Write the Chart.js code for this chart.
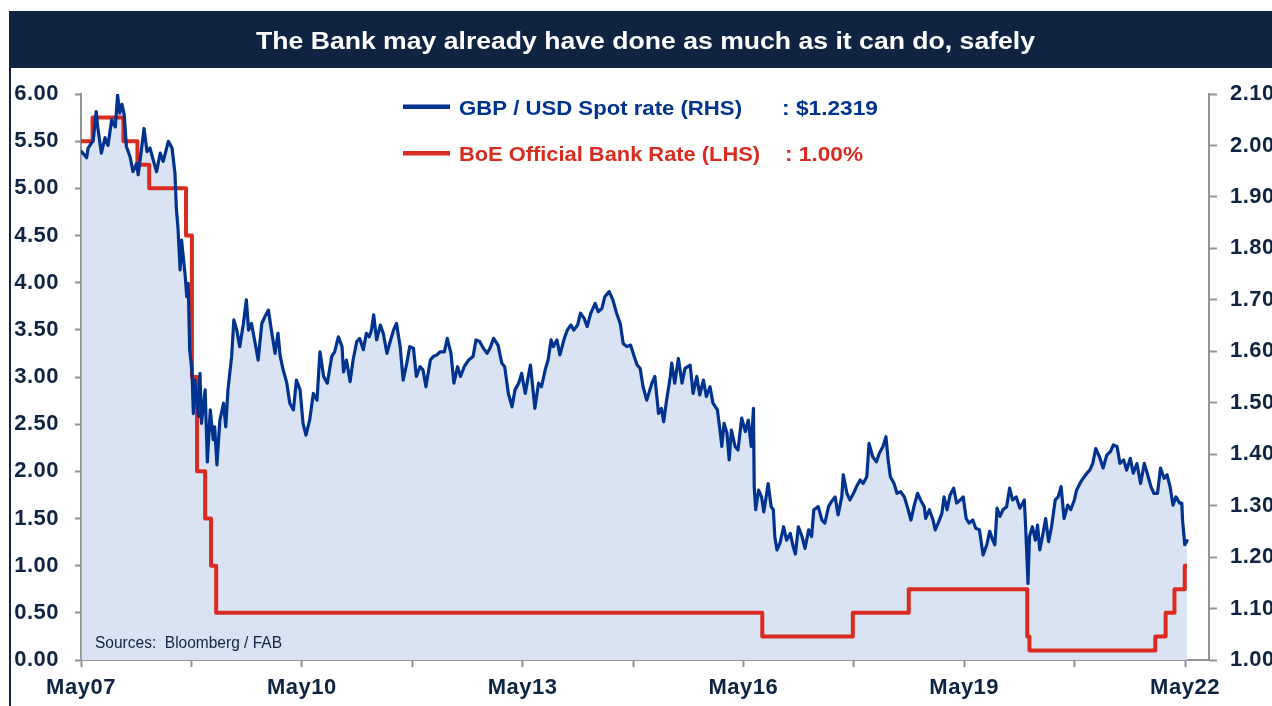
<!DOCTYPE html>
<html>
<head>
<meta charset="utf-8">
<script src="https://cdn.jsdelivr.net/npm/chart.js@4.4.1/dist/chart.umd.min.js"></script>
<style>
html,body{margin:0;padding:0;background:#fff;}
#c{display:block;}
</style>
</head>
<body>
<canvas id="c" width="1272" height="706"></canvas>
<script>
// ---------------- DATA ----------------
const chartTitle = 'The Bank may already have done as much as it can do, safely';
const fxLabel = 'GBP / USD Spot rate (RHS)';
const fxLast = ': $1.2319';
const bankLabel = 'BoE Official Bank Rate (LHS)';
const bankLast = ': 1.00%';
const sourceText = 'Sources:  Bloomberg / FAB';

const xTickLabels = ['May07', 'May10', 'May13', 'May16', 'May19', 'May22'];
const leftTickLabels = ['0.00','0.50','1.00','1.50','2.00','2.50','3.00','3.50','4.00','4.50','5.00','5.50','6.00'];
const rightTickLabels = ['1.00','1.10','1.20','1.30','1.40','1.50','1.60','1.70','1.80','1.90','2.00','2.10'];

// GBP/USD spot (decimal year, rate)
const fxYears = [
2007.34,2007.41,2007.43,2007.50,2007.54,2007.56,2007.61,2007.66,2007.70,2007.75,
2007.80,2007.83,2007.86,2007.89,2007.92,2007.95,2008.00,2008.04,2008.09,2008.11,
2008.16,2008.19,2008.23,2008.27,2008.32,2008.36,2008.41,2008.45,2008.52,2008.57,
2008.61,2008.63,2008.65,2008.68,2008.70,2008.75,2008.77,2008.79,2008.81,2008.84,
2008.86,2008.88,2008.93,2008.95,2008.97,2009.02,2009.05,2009.09,2009.13,2009.15,
2009.18,2009.22,2009.27,2009.30,2009.33,2009.38,2009.41,2009.45,2009.49,2009.54,
2009.58,2009.61,2009.65,2009.70,2009.74,2009.79,2009.83,2009.88,2009.92,2009.97,
2010.01,2010.04,2010.08,2010.13,2010.17,2010.22,2010.26,2010.31,2010.35,2010.39,
2010.44,2010.49,2010.54,2010.58,2010.63,2010.68,2010.74,2010.78,2010.83,2010.88,
2010.90,2010.94,2010.99,2011.03,2011.08,2011.12,2011.17,2011.21,2011.25,2011.28,
2011.31,2011.35,2011.40,2011.44,2011.49,2011.54,2011.58,2011.62,2011.67,2011.71,
2011.76,2011.80,2011.85,2011.89,2011.94,2011.98,2012.02,2012.08,2012.12,2012.17,
2012.21,2012.27,2012.31,2012.36,2012.40,2012.45,2012.49,2012.54,2012.60,2012.66,
2012.70,2012.75,2012.80,2012.85,2012.89,2012.94,2013.00,2013.05,2013.09,2013.14,
2013.19,2013.23,2013.28,2013.32,2013.37,2013.41,2013.44,2013.48,2013.50,2013.55,
2013.59,2013.64,2013.68,2013.72,2013.75,2013.80,2013.84,2013.90,2013.94,2013.99,
2014.03,2014.08,2014.12,2014.17,2014.21,2014.26,2014.32,2014.36,2014.41,2014.45,
2014.51,2014.56,2014.61,2014.66,2014.70,2014.75,2014.80,2014.85,2014.89,2014.93,
2014.97,2015.02,2015.09,2015.13,2015.18,2015.22,2015.25,2015.29,2015.34,2015.36,
2015.40,2015.45,2015.50,2015.54,2015.61,2015.65,2015.70,2015.74,2015.79,2015.83,
2015.88,2015.92,2015.98,2016.02,2016.04,2016.07,2016.11,2016.14,2016.17,2016.22,
2016.26,2016.31,2016.36,2016.40,2016.44,2016.47,2016.48,2016.50,2016.54,2016.58,
2016.61,2016.65,2016.67,2016.71,2016.74,2016.76,2016.79,2016.83,2016.88,2016.92,
2016.97,2017.01,2017.04,2017.08,2017.13,2017.17,2017.22,2017.26,2017.29,2017.35,
2017.40,2017.44,2017.49,2017.53,2017.58,2017.62,2017.67,2017.69,2017.74,2017.78,
2017.83,2017.87,2017.92,2017.96,2018.01,2018.04,2018.09,2018.14,2018.18,2018.23,
2018.27,2018.30,2018.33,2018.38,2018.42,2018.47,2018.52,2018.56,2018.61,2018.65,
2018.70,2018.74,2018.79,2018.81,2018.86,2018.91,2018.94,2018.98,2019.03,2019.06,
2019.10,2019.14,2019.19,2019.23,2019.28,2019.32,2019.36,2019.40,2019.45,2019.49,
2019.54,2019.59,2019.64,2019.68,2019.72,2019.75,2019.78,2019.82,2019.86,2019.91,
2019.95,2019.99,2020.04,2020.09,2020.15,2020.17,2020.20,2020.22,2020.26,2020.30,
2020.33,2020.36,2020.40,2020.44,2020.48,2020.52,2020.57,2020.61,2020.65,2020.69,
2020.74,2020.78,2020.83,2020.86,2020.92,2020.95,2021.00,2021.04,2021.08,2021.12,
2021.17,2021.22,2021.27,2021.32,2021.36,2021.41,2021.45,2021.50,2021.54,2021.59,
2021.63,2021.68,2021.73,2021.78,2021.82,2021.87,2021.91,2021.96,2022.00,2022.05,
2022.09,2022.13,2022.17,2022.21,2022.26,2022.29,2022.30,2022.33,2022.36
];
const fxRates = [
1.988,1.976,1.995,2.010,2.066,2.037,1.985,2.015,2.000,2.050,
2.036,2.098,2.063,2.080,2.060,1.998,1.978,1.949,1.965,1.943,
1.998,2.033,1.988,1.995,1.969,1.949,1.985,1.969,2.008,1.995,
1.946,1.875,1.842,1.758,1.816,1.745,1.706,1.732,1.603,1.564,
1.479,1.544,1.473,1.557,1.460,1.525,1.385,1.486,1.428,1.453,
1.379,1.466,1.499,1.453,1.525,1.590,1.661,1.641,1.609,1.654,
1.700,1.641,1.654,1.615,1.583,1.654,1.667,1.680,1.641,1.596,
1.635,1.590,1.564,1.538,1.499,1.486,1.544,1.525,1.460,1.437,
1.466,1.518,1.505,1.599,1.551,1.538,1.590,1.599,1.628,1.609,
1.560,1.583,1.541,1.583,1.619,1.625,1.603,1.635,1.628,1.641,
1.671,1.622,1.651,1.635,1.596,1.622,1.641,1.654,1.609,1.544,
1.577,1.609,1.606,1.551,1.570,1.564,1.531,1.583,1.590,1.593,
1.599,1.599,1.625,1.596,1.538,1.570,1.551,1.570,1.583,1.590,
1.622,1.619,1.606,1.596,1.606,1.625,1.612,1.577,1.570,1.518,
1.492,1.525,1.538,1.557,1.518,1.551,1.573,1.518,1.489,1.538,
1.531,1.564,1.583,1.622,1.609,1.622,1.593,1.625,1.641,1.651,
1.641,1.651,1.674,1.664,1.648,1.674,1.693,1.677,1.683,1.706,
1.716,1.700,1.674,1.654,1.615,1.609,1.612,1.590,1.573,1.567,
1.531,1.505,1.538,1.551,1.479,1.489,1.463,1.505,1.551,1.577,
1.538,1.586,1.538,1.567,1.573,1.518,1.551,1.515,1.544,1.512,
1.531,1.499,1.486,1.441,1.415,1.460,1.441,1.389,1.447,1.415,
1.408,1.470,1.444,1.466,1.415,1.489,1.337,1.292,1.330,1.317,
1.288,1.324,1.343,1.298,1.292,1.240,1.214,1.227,1.259,1.233,
1.246,1.220,1.206,1.259,1.240,1.217,1.253,1.240,1.292,1.298,
1.272,1.266,1.298,1.308,1.317,1.282,1.317,1.360,1.324,1.311,
1.324,1.337,1.350,1.343,1.356,1.421,1.395,1.385,1.402,1.415,
1.434,1.389,1.356,1.343,1.324,1.327,1.317,1.298,1.272,1.298,
1.324,1.311,1.298,1.275,1.292,1.272,1.253,1.266,1.285,1.317,
1.292,1.320,1.334,1.305,1.311,1.317,1.275,1.266,1.272,1.256,
1.253,1.204,1.224,1.250,1.233,1.224,1.295,1.279,1.292,1.298,
1.334,1.311,1.317,1.295,1.311,1.253,1.149,1.240,1.259,1.233,
1.262,1.214,1.243,1.275,1.230,1.259,1.311,1.317,1.337,1.275,
1.301,1.292,1.311,1.330,1.347,1.353,1.363,1.369,1.382,1.411,
1.395,1.373,1.398,1.405,1.418,1.415,1.382,1.389,1.369,1.392,
1.363,1.382,1.343,1.382,1.363,1.337,1.324,1.324,1.373,1.353,
1.360,1.337,1.301,1.317,1.305,1.305,1.272,1.224,1.2319
];

// BoE Official Bank Rate (decimal year of change, new rate)
const bankYears = [2007.334,2007.49,2007.91,2008.10,2008.26,2008.76,2008.84,2008.91,2009.02,2009.10,2009.17,2016.59,2017.82,2018.58,2020.19,2020.22,2021.93,2022.07,2022.19,2022.33,2022.36];
const bankRates = [5.50,5.75,5.50,5.25,5.00,4.50,3.00,2.00,1.50,1.00,0.50,0.25,0.50,0.75,0.25,0.10,0.25,0.50,0.75,1.00,1.00];

// ---------------- BUILD ----------------
const labelYear = l => 2000 + parseInt(l.slice(3), 10) + 4 / 12;
const xMajor = xTickLabels.map(labelYear);
const xTicks = [];
xMajor.forEach((v, i) => {
  xTicks.push(v);
  if (i < xMajor.length - 1) xTicks.push((v + xMajor[i + 1]) / 2);
});
const xMin = xMajor[0];
const xMax = xMajor[0] + 15.326;

const fxData = fxYears.map((x, i) => ({ x: x, y: fxRates[i] }));
const bankData = bankYears.map((x, i) => ({ x: x, y: bankRates[i] }));

const NAVY = '#0f2443';
const AXIS = '#939393';
const TICK_FONT = { family: "'Liberation Sans', Arial, sans-serif", size: 22, weight: 'bold' };

function fitText(ctx, text, x, y, w, font, color) {
  ctx.save();
  ctx.letterSpacing = '0px';
  ctx.font = font;
  ctx.fillStyle = color;
  ctx.textAlign = 'left';
  ctx.textBaseline = 'alphabetic';
  const m = ctx.measureText(text).width;
  ctx.translate(x, y);
  ctx.scale(w / m, 1);
  ctx.fillText(text, 0, 0);
  ctx.restore();
}

const decor = {
  id: 'decor',
  beforeDraw(chart) {
    const ctx = chart.ctx;
    ctx.save();
    ctx.letterSpacing = '0px';
    ctx.fillStyle = '#ffffff';
    ctx.fillRect(0, 0, chart.width, chart.height);
    ctx.restore();
    ctx.letterSpacing = '0.5px';
  },
  beforeDatasetsDraw(chart) {
    chart.ctx.letterSpacing = '0px';
  },
  afterDraw(chart) {
    const ctx = chart.ctx;
    ctx.save();
    ctx.letterSpacing = '0px';
    // title bar
    ctx.fillStyle = NAVY;
    ctx.fillRect(9, 11, chart.width - 9, 57);
    // left frame line
    ctx.fillRect(9, 68, 2, chart.height - 68);
    ctx.restore();
    fitText(ctx, chartTitle, 256, 49, 779, "bold 23px 'Liberation Sans', Arial, sans-serif", '#ffffff');

    // legend
    ctx.save();
    ctx.fillStyle = '#00338f';
    ctx.fillRect(403, 104.5, 47, 4.5);
    ctx.fillStyle = '#d92b1f';
    ctx.fillRect(403, 151, 47, 4.5);
    ctx.restore();
    const lf = "bold 20px 'Liberation Sans', Arial, sans-serif";
    fitText(ctx, fxLabel, 459, 115, 283, lf, '#00338f');
    fitText(ctx, fxLast, 782, 115, 96, lf, '#00338f');
    fitText(ctx, bankLabel, 459, 161, 301, lf, '#d92b1f');
    fitText(ctx, bankLast, 785, 161, 78, lf, '#d92b1f');

    // source
    fitText(ctx, sourceText, 95, 648, 187, "16px 'Liberation Sans', Arial, sans-serif", NAVY);
  }
};

new Chart(document.getElementById('c').getContext('2d'), {
  type: 'line',
  data: {
    datasets: [
      {
        label: fxLabel,
        data: fxData,
        yAxisID: 'y1',
        borderColor: '#00338f',
        borderWidth: 3.2,
        backgroundColor: '#dae3f3',
        fill: 'start',
        pointRadius: 0,
        tension: 0,
        borderJoinStyle: 'round',
        borderCapStyle: 'round'
      },
      {
        label: bankLabel,
        data: bankData,
        yAxisID: 'y',
        borderColor: '#d92b1f',
        borderWidth: 4,
        stepped: 'before',
        fill: false,
        pointRadius: 0,
        borderJoinStyle: 'round'
      }
    ]
  },
  options: {
    responsive: false,
    animation: false,
    events: [],
    layout: { padding: { top: 94, left: 0, right: 0, bottom: 0 } },
    plugins: {
      legend: { display: false },
      tooltip: { enabled: false },
      filler: { drawTime: 'beforeDatasetsDraw' }
    },
    scales: {
      x: {
        type: 'linear',
        min: xMin,
        max: xMax,
        afterFit(s) { s.height = 46; },
        afterBuildTicks(s) { s.ticks = xTicks.map(v => ({ value: v })); },
        ticks: {
          autoSkip: false,
          maxRotation: 0,
          padding: 8,
          color: NAVY,
          font: TICK_FONT,
          callback(v) {
            const i = xMajor.findIndex(m => Math.abs(m - v) < 1e-6);
            return i >= 0 ? xTickLabels[i] : '';
          }
        },
        grid: { drawOnChartArea: false, drawTicks: true, tickLength: 7, tickWidth: 2, tickColor: AXIS },
        border: { display: true, color: AXIS, width: 2 }
      },
      y: {
        position: 'left',
        min: 0,
        max: 6,
        afterFit(s) { s.width = 81; },
        afterBuildTicks(s) { s.ticks = leftTickLabels.map(t => ({ value: parseFloat(t) })); },
        ticks: {
          padding: 16,
          color: NAVY,
          font: TICK_FONT,
          callback(v) { return v.toFixed(2); }
        },
        grid: { drawOnChartArea: false, drawTicks: true, tickLength: 6, tickWidth: 2, tickColor: AXIS },
        border: { display: true, color: AXIS, width: 2 }
      },
      y1: {
        position: 'right',
        min: 1.0,
        max: 2.1,
        afterFit(s) { s.width = 63; },
        afterBuildTicks(s) { s.ticks = rightTickLabels.map(t => ({ value: parseFloat(t) })); },
        ticks: {
          padding: 13,
          color: NAVY,
          font: TICK_FONT,
          callback(v) { return v.toFixed(2); }
        },
        grid: { drawOnChartArea: false, drawTicks: true, tickLength: 8, tickWidth: 2, tickColor: AXIS },
        border: { display: true, color: AXIS, width: 2 }
      }
    }
  },
  plugins: [decor]
});
</script>
</body>
</html>
